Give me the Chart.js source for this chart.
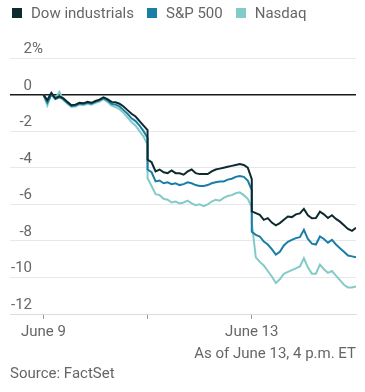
<!DOCTYPE html>
<html>
<head>
<meta charset="utf-8">
<script src="https://cdn.jsdelivr.net/npm/chart.js@4/dist/chart.umd.min.js"></script>
<style>
  html, body { margin: 0; padding: 0; background: #fff; }
  body { width: 365px; height: 392px; position: relative; overflow: hidden; font-family: Roboto, "Noto Sans", sans-serif; color: #666; }
  #chart-wrap { position: absolute; left: 0; top: 0; width: 365px; height: 392px; }
  .legend { position: absolute; top: 4px; left: 12px; font-size: 15px; display: flex; align-items: center; white-space: nowrap; }
  .legend span.sw { display: inline-block; width: 10px; height: 10px; margin-right: 9px; }
  .legend span.item { display: inline-flex; align-items: center; margin-right: 13px; }
  .note { position: absolute; font-size: 15px; white-space: nowrap; }
</style>
</head>
<body>
<div id="chart-wrap"><canvas id="chart"></canvas></div>
<div class="legend" id="legend"></div>
<div class="note" style="right: 9px; top: 344px;">As of June 13, 4 p.m. ET</div>
<div class="note" style="left: 10px; top: 364px;">Source: FactSet</div>
<script>
document.addEventListener('DOMContentLoaded', () => {

    // Trading days shown on the x axis (index 0, 1, 2)
    const days = ['June 9', 'June 10', 'June 13'];
    const xTickLabels = ['June 9', '', 'June 13'];
    const yTicks = [2, 0, -2, -4, -6, -8, -10, -12];

    const seriesNames = ['Dow industrials', 'S&P 500', 'Nasdaq'];
    const seriesColors = ['#0d2a2e', '#1a7ea6', '#83cbc6'];

    // Cumulative % change, roughly every 15 minutes per session
    const dowJune9 = [0, -0.3, 0.1, -0.2, -0.1, -0.2, -0.4, -0.58, -0.55, -0.45, -0.48, -0.4, -0.45, -0.35, -0.28, -0.15, -0.25, -0.4, -0.42, -0.5, -0.65, -0.85, -1.05, -1.2, -1.45, -1.7, -1.94];
    const dowJune10 = [-3.56, -3.7, -4.2, -4.1, -4.25, -4.3, -4.15, -4.3, -4.3, -4.38, -4.2, -4.1, -4.3, -4.35, -4.35, -4.35, -4.2, -4.1, -4.05, -4.0, -3.95, -3.9, -3.85, -3.8, -3.85, -4.0, -4.62];
    const dowJune13 = [-6.39, -6.48, -6.58, -6.85, -6.76, -7.0, -7.15, -7.03, -6.85, -6.67, -6.7, -6.55, -6.5, -6.25, -6.6, -6.76, -6.75, -6.4, -6.55, -6.75, -6.6, -6.8, -6.95, -7.15, -7.35, -7.45, -7.28];

    const spJune9 = [0, -0.45, 0.0, -0.25, -0.15, -0.25, -0.45, -0.62, -0.6, -0.5, -0.52, -0.45, -0.5, -0.4, -0.32, -0.2, -0.32, -0.5, -0.55, -0.65, -0.85, -1.05, -1.3, -1.45, -1.7, -2.0, -2.38];
    const spJune10 = [-4.1, -4.25, -4.75, -4.7, -4.85, -4.8, -4.9, -4.85, -4.95, -4.9, -4.8, -4.85, -4.95, -5.0, -5.0, -4.95, -4.85, -4.8, -4.75, -4.75, -4.65, -4.6, -4.5, -4.45, -4.5, -4.7, -5.22];
    const spJune13 = [-7.5, -7.67, -7.76, -8.04, -8.2, -8.45, -8.75, -8.6, -8.25, -8.05, -7.95, -7.85, -7.8, -7.4, -7.9, -8.15, -8.2, -7.76, -7.9, -8.1, -7.95, -8.2, -8.4, -8.6, -8.8, -8.85, -8.9];

    const nasJune9 = [0, -0.6, 0.05, -0.2, 0.15, -0.3, -0.5, -0.68, -0.65, -0.55, -0.58, -0.5, -0.55, -0.45, -0.38, -0.25, -0.4, -0.6, -0.68, -0.8, -1.0, -1.25, -1.5, -1.7, -2.0, -2.3, -2.75];
    const nasJune10 = [-4.57, -5.0, -5.45, -5.5, -5.7, -5.75, -5.9, -5.85, -5.95, -5.9, -5.8, -5.95, -6.05, -6.0, -6.1, -6.0, -5.85, -5.75, -5.8, -5.65, -5.55, -5.5, -5.4, -5.35, -5.5, -5.7, -6.17];
    const nasJune13 = [-7.0, -8.9, -9.15, -9.35, -9.65, -9.95, -10.3, -10.1, -9.8, -9.7, -9.6, -9.5, -9.4, -8.95, -9.45, -9.8, -9.8, -9.3, -9.55, -9.75, -9.65, -9.9, -10.15, -10.4, -10.55, -10.55, -10.5];

    const seriesByDay = [
        [dowJune9, dowJune10, dowJune13],
        [spJune9, spJune10, spJune13],
        [nasJune9, nasJune10, nasJune13]
    ];

    // Each session spans one x unit; day index + fraction of session
    function toPoints(sessions) {
        const pts = [];
        sessions.forEach((vals, d) => {
            vals.forEach((v, i) => {
                pts.push({ x: d + i / (vals.length - 1), y: v });
            });
        });
        return pts;
    }

    // Legend
    const legend = document.getElementById('legend');
    seriesNames.forEach((name, i) => {
        const item = document.createElement('span');
        item.className = 'item';
        item.innerHTML = `<span class="sw" style="background:${seriesColors[i]}"></span>${name.replace('&', '&amp;')}`;
        legend.appendChild(item);
    });

    // Y labels sit just above their gridlines, % only on the top one
    const yLabelPlugin = {
        id: 'yLabels',
        afterDraw(chart) {
            const c = chart.ctx;
            const y = chart.scales.y;
            c.save();
            c.font = '15px Roboto, "Noto Sans", sans-serif';
            c.fillStyle = '#666';
            c.textBaseline = 'alphabetic';
            yTicks.forEach(v => {
                const py = y.getPixelForValue(v);
                c.textAlign = 'right';
                c.fillText(String(v), 32, py - 5);
                if (v === yTicks[0]) {
                    c.textAlign = 'left';
                    c.fillText('%', 32, py - 5);
                }
            });
            c.restore();
        }
    };

    new Chart(document.getElementById('chart'), {
        type: 'line',
        data: {
            datasets: seriesNames.map((name, i) => ({
                label: name,
                data: toPoints(seriesByDay[i]),
                borderColor: seriesColors[i],
                borderWidth: 2,
                pointRadius: 0,
                tension: 0,
                fill: false
            }))
        },
        options: {
            responsive: true,
            maintainAspectRatio: false,
            animation: false,
            layout: { padding: { top: 58, left: 10, right: 9, bottom: 0 } },
            plugins: { legend: { display: false }, tooltip: { enabled: false } },
            scales: {
                x: {
                    type: 'linear',
                    min: -0.32,
                    max: days.length,
                    afterBuildTicks(scale) {
                        scale.ticks = days.map((d, i) => ({ value: i }));
                    },
                    afterFit(scale) { scale.height = 78; },
                    grid: { drawOnChartArea: false, drawTicks: true, tickLength: 5, tickColor: '#999' },
                    border: { color: '#dcdcdc', width: 1 },
                    ticks: {
                        color: '#666',
                        font: { family: 'Roboto, "Noto Sans", sans-serif', size: 15 },
                        padding: 4,
                        maxRotation: 0,
                        autoSkip: false,
                        callback: (v) => xTickLabels[v] ?? ''
                    }
                },
                y: {
                    min: yTicks[yTicks.length - 1],
                    max: yTicks[0],
                    afterBuildTicks(scale) {
                        scale.ticks = yTicks.map(v => ({ value: v }));
                    },
                    afterFit(scale) { scale.width = 0; },
                    border: { display: false },
                    grid: {
                        drawTicks: false,
                        color: (ctx) => ctx.tick && ctx.tick.value === 0 ? '#1a1a1a' : '#e8e8ec',
                        lineWidth: (ctx) => ctx.tick && ctx.tick.value === 0 ? 1.5 : 1
                    },
                    ticks: { display: false }
                }
            }
        },
        plugins: [yLabelPlugin]
    });
});
</script>
</body>
</html>
